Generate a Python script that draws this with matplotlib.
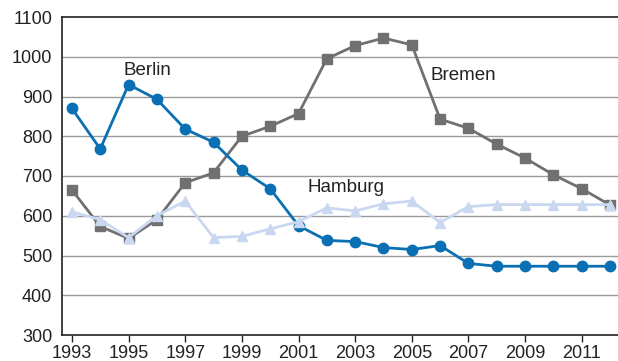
import matplotlib
matplotlib.use("Agg")
import matplotlib.pyplot as plt

matplotlib.rcParams.update({
    "font.family": ["Liberation Sans", "DejaVu Sans"],
    "font.size": 13,
})

years = list(range(1993, 2013))

berlin = [870, 768, 930, 893, 818, 785, 715, 668, 575, 538,
          535, 520, 515, 525, 480, 473, 473, 473, 473, 473]
bremen = [665, 573, 543, 590, 683, 708, 800, 825, 857, 995,
          1028, 1047, 1030, 843, 820, 780, 745, 703, 668, 627]
hamburg = [610, 590, 545, 600, 637, 545, 548, 567, 585, 620,
           612, 630, 637, 583, 623, 628, 628, 628, 628, 628]

x_ticks = list(range(1993, 2013, 2))
y_ticks = list(range(300, 1101, 100))

BLUE = "#0a70b3"
GREY = "#707070"
PALE = "#c9d8f0"

fig = plt.figure(figsize=(6.18, 3.61), dpi=100)
ax = fig.add_axes([62 / 618, 26 / 361, 556 / 618, 318 / 361])

for v in y_ticks[1:-1]:
    ax.axhline(v, color="#9a9a9a", linewidth=1.0, zorder=0)

ax.plot(years, bremen, color=GREY, linewidth=2.0, marker="s",
        markersize=6.5, zorder=2)
ax.plot(years, berlin, color=BLUE, linewidth=2.0, marker="o",
        markersize=7.5, zorder=3)
ax.plot(years, hamburg, color=PALE, linewidth=2.0, marker="^",
        markersize=7.5, zorder=4)

ax.text(1995.65, 965, "Berlin", ha="center", va="center", fontsize=13.5, color="#222222")
ax.text(2005.65, 953, "Bremen", ha="left", va="center", fontsize=13.5, color="#222222")
ax.text(2001.3, 671, "Hamburg", ha="left", va="center", fontsize=13.5, color="#222222")

ax.set_xlim(1992.65, 2012.28)
ax.set_ylim(300, 1100)
ax.set_xticks(x_ticks)
ax.set_yticks(y_ticks)
ax.tick_params(axis="both", length=5, width=1.0, color="#222222",
               labelsize=13, labelcolor="#222222")
ax.tick_params(axis="x", pad=2)
ax.tick_params(axis="y", length=0, pad=7)

ax.spines["right"].set_visible(False)
for side in ["left", "bottom", "top"]:
    ax.spines[side].set_color("#222222")
    ax.spines[side].set_linewidth(1.2)

fig.savefig("out.png", dpi=100)
